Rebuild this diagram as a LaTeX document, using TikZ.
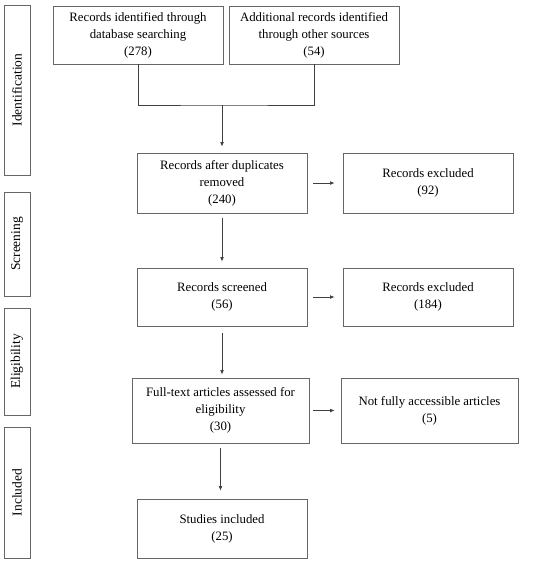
\documentclass[tikz,border=0pt]{standalone}
\usepackage{fontspec}
\setmainfont{Liberation Serif}
\usetikzlibrary{arrows.meta}
\begin{document}
\begin{tikzpicture}[x=1pt,y=-1pt,
  box/.style={draw=black!60, line width=0.8pt, align=center, inner sep=2pt,
    minimum width=170pt, minimum height=58pt, font=\fontsize{12.8}{17}\selectfont},
  side/.style={draw=black!60, line width=0.8pt, minimum width=26pt, inner sep=0pt},
  sidetext/.style={rotate=90, font=\fontsize{13.5}{15}\selectfont},
  link/.style={draw=black!75, line width=0.7pt},
  arr/.style={link, -{Latex[length=4.5pt,width=3.8pt]}}]
\useasboundingbox (0,0) rectangle (550,563);
% phase labels
\node[side, minimum height=170pt] (s1) at (17,90) {};
\node[sidetext] (t1) at (s1.center) {Identification};
\node[side, minimum height=104pt] (s2) at (17,244) {};
\node[sidetext] (t2) at (s2.center) {Screening};
\node[side, minimum height=107pt] (s3) at (17,361.5) {};
\node[sidetext] (t3) at (s3.center) {Eligibility};
\node[side, minimum height=131pt] (s4) at (17,492.5) {};
\node[sidetext] (t4) at (s4.center) {Included};
% boxes
\node[box] (b1) at (138,35) {Records identified through\\database searching\\(278)};
\node[box] (b2) at (314,35) {Additional records identified\\through other sources\\(54)};
\node[box, minimum height=60pt] (b3) at (222,183) {Records after duplicates\\removed\\(240)};
\node[box, minimum height=60pt] (b4) at (428,183) {Records excluded\\(92)};
\node[box] (b5) at (222,297) {Records screened\\(56)};
\node[box] (b6) at (428,297) {Records excluded\\(184)};
\node[box, minimum width=177pt, minimum height=65pt] (b7) at (220.5,410.5) {Full-text articles assessed for\\eligibility\\(30)};
\node[box, minimum width=177pt, minimum height=65pt] (b8) at (429.5,410.5) {Not fully accessible articles\\(5)};
\node[box, minimum height=59pt] (b9) at (222,528.5) {Studies included\\(25)};
% connectors
\coordinate (j) at (222,105);
\draw[link] (b1.south) |- (j) -| (b2.south);
\draw[arr, shorten >=6pt] (j) -- (j |- b3.north);
\draw[arr, shorten <=5pt, shorten >=6pt] (b3.south) -- (b3.south |- b5.north);
\draw[arr, shorten <=7pt, shorten >=3pt] (b5.south) -- (b5.south |- b7.north);
\draw[arr, shorten <=5pt, shorten >=8pt] (b7.south) -- (b7.south |- b9.north);
\draw[arr, shorten <=6pt, shorten >=8pt] (b3.east) -- (b4.west);
\draw[arr, shorten <=6pt, shorten >=8pt] (b5.east) -- (b6.west);
\draw[arr, shorten <=4pt, shorten >=6pt] (b7.east) -- (b8.west);
\end{tikzpicture}
\end{document}
